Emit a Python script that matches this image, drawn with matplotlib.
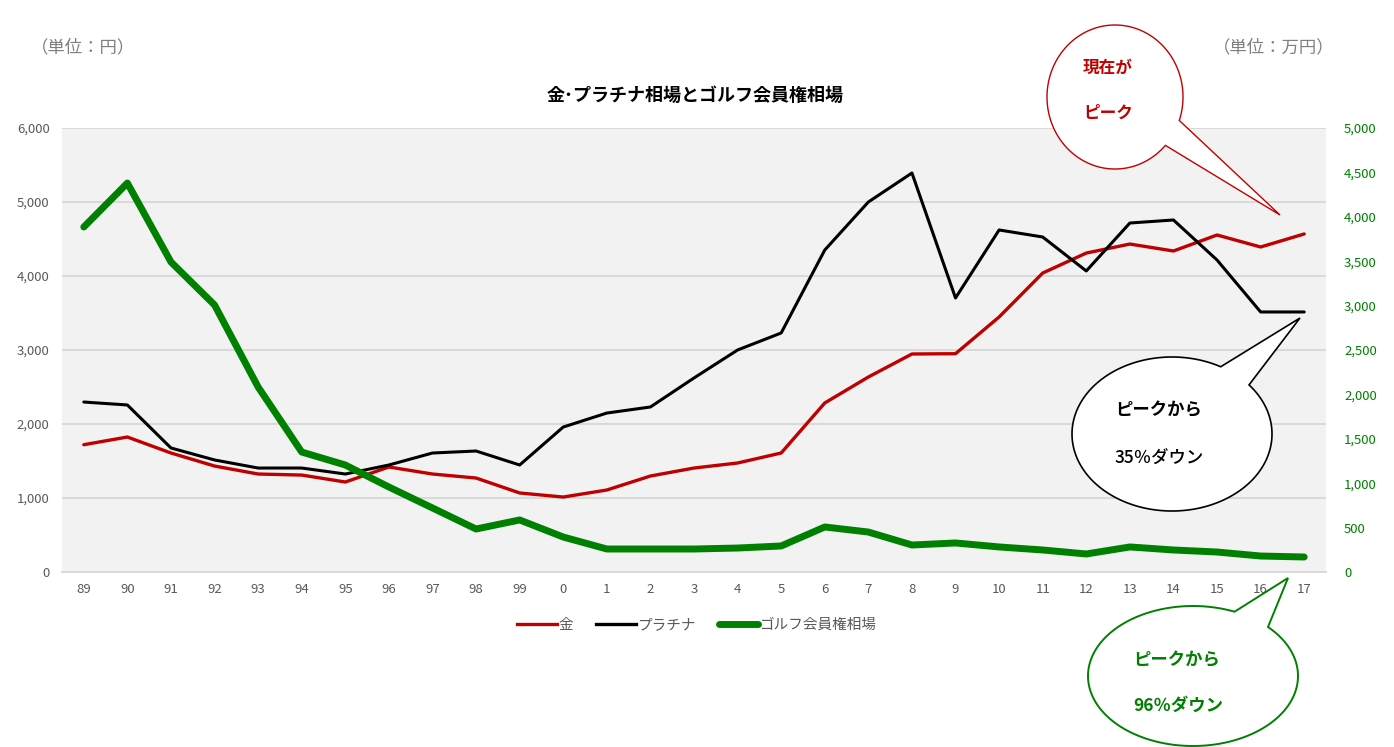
import numpy as np
import matplotlib
matplotlib.use('Agg')
import matplotlib.pyplot as plt
from matplotlib.patches import Polygon
from matplotlib.ticker import FuncFormatter
from matplotlib.lines import Line2D

plt.rcParams['font.family'] = ['Noto Sans CJK JP', 'DejaVu Sans']

years = ['89', '90', '91', '92', '93', '94', '95', '96', '97', '98', '99',
         '0', '1', '2', '3', '4', '5', '6', '7', '8', '9', '10', '11', '12',
         '13', '14', '15', '16', '17']
gold = [1720, 1824, 1608, 1432, 1324, 1310, 1216, 1419, 1324, 1270, 1068,
        1013, 1108, 1297, 1405, 1473, 1608, 2284, 2635, 2946, 2950, 3446,
        4040, 4310, 4432, 4338, 4554, 4392, 4568]
platinum = [2297, 2257, 1676, 1514, 1405, 1405, 1324, 1446, 1608, 1635, 1446,
            1959, 2148, 2230, 2622, 3000, 3230, 4351, 5000, 5392, 3703, 4622,
            4527, 4068, 4716, 4757, 4216, 3514, 3514]
golf = [3885, 4380, 3491, 3007, 2083, 1351, 1205, 957, 721, 484, 586,
        394, 259, 259, 259, 270, 293, 507, 450, 304, 327, 282,
        248, 203, 282, 248, 225, 180, 169]

RED = '#c00000'
GREEN = '#008000'
GRAY = '#595959'

W, H = 1394, 747
fig = plt.figure(figsize=(W / 100, H / 100), dpi=100)
ax = fig.add_axes([62 / W, 1 - 572 / H, (1326 - 62) / W, (572 - 128) / H])
ax.set_facecolor('#f2f2f2')
x = np.arange(len(years))

ax.plot(x, gold, color=RED, lw=2.4, solid_capstyle='round', zorder=3)
ax.plot(x, platinum, color='black', lw=2.2, solid_capstyle='round', zorder=3)
ax.set_xlim(-0.5, len(years) - 0.5)
ax.set_ylim(0, 6000)
ax.set_yticks(range(0, 6001, 1000))
ax.yaxis.set_major_formatter(FuncFormatter(lambda v, p: f'{int(v):,}'))
ax.set_xticks(x)
ax.set_xticklabels(years)
ax.grid(axis='y', color='#d9d9d9', lw=1.4, zorder=0)
ax.set_axisbelow(True)
for s in ['top', 'right', 'left']:
    ax.spines[s].set_visible(False)
ax.spines['bottom'].set_color('#d9d9d9')
ax.spines['bottom'].set_linewidth(1.4)
ax.tick_params(axis='both', length=0, labelsize=9.5, labelcolor=GRAY)
ax.tick_params(axis='y', pad=9)
ax.tick_params(axis='x', pad=8)

ax2 = ax.twinx()
ax2.plot(x, golf, color=GREEN, lw=5.0, solid_capstyle='round', zorder=4)
ax2.set_ylim(0, 5000)
ax2.set_yticks(range(0, 5001, 500))
ax2.yaxis.set_major_formatter(FuncFormatter(lambda v, p: f'{int(v):,}'))
for s in ax2.spines.values():
    s.set_visible(False)
ax2.tick_params(axis='y', length=0, labelsize=9.5, labelcolor=GREEN, pad=13)

fig.text(695 / W, 1 - 95 / H, '金･プラチナ相場とゴルフ会員権相場', ha='center', va='center',
         fontsize=13, fontweight='bold', color='black')
fig.text(31 / W, 1 - 47 / H, '（単位：円）', ha='left', va='center', fontsize=12.5, color='#7f7f7f')
fig.text(1335 / W, 1 - 47 / H, '（単位：万円）', ha='right', va='center', fontsize=12.5, color='#7f7f7f')

handles = [Line2D([], [], color=RED, lw=2.4),
           Line2D([], [], color='black', lw=2.4),
           Line2D([], [], color=GREEN, lw=5.0, solid_capstyle='round')]
fig.legend(handles, ['金', 'プラチナ', 'ゴルフ会員権相場'], loc='center', ncol=3,
           bbox_to_anchor=(697 / W, 1 - 625 / H), frameon=False, fontsize=10.5,
           labelcolor=GRAY, handlelength=2.7, handletextpad=0.1, columnspacing=1.6)

# callouts drawn in pixel coordinates on an overlay
ov = fig.add_axes([0, 0, 1, 1])
ov.set_xlim(0, W)
ov.set_ylim(H, 0)
ov.axis('off')


def callout(cx, cy, a, b, p1, tip, p2, color, lw):
    t1 = np.arctan2((p1[1] - cy) / b, (p1[0] - cx) / a)
    t2 = np.arctan2((p2[1] - cy) / b, (p2[0] - cx) / a)
    d = (t1 - t2) % (2 * np.pi)
    if d < np.pi:
        ts = np.linspace(t1, t1 + (2 * np.pi - d), 200)
    else:
        ts = np.linspace(t1, t1 - d, 200)
    pts = np.column_stack([cx + a * np.cos(ts), cy + b * np.sin(ts)])
    pts = np.vstack([pts, [tip]])
    ov.add_patch(Polygon(pts, closed=True, facecolor='white', edgecolor=color, lw=lw))


callout(1115, 97, 68, 72, (1178, 120), (1280, 215), (1165, 145), RED, 1.0)
callout(1172, 434, 100, 77, (1222, 365), (1300, 318), (1252, 383), 'black', 1.2)
callout(1193, 676, 105, 70, (1235, 611), (1288, 578), (1268, 627), GREEN, 1.4)

ov.text(1083, 68, '現在が', color=RED, fontsize=12, fontweight='bold', va='center')
ov.text(1083, 113, 'ピーク', color=RED, fontsize=12, fontweight='bold', va='center')
ov.text(1115, 410, 'ピークから', color='black', fontsize=12.5, fontweight='bold', va='center')
ov.text(1115, 458, '35％ダウン', color='black', fontsize=12.5, fontweight='medium', va='center')
ov.text(1133, 660, 'ピークから', color=GREEN, fontsize=12.5, fontweight='bold', va='center')
ov.text(1133, 706, '96％ダウン', color=GREEN, fontsize=12.5, fontweight='bold', va='center')

fig.savefig('out.png', dpi=100)
